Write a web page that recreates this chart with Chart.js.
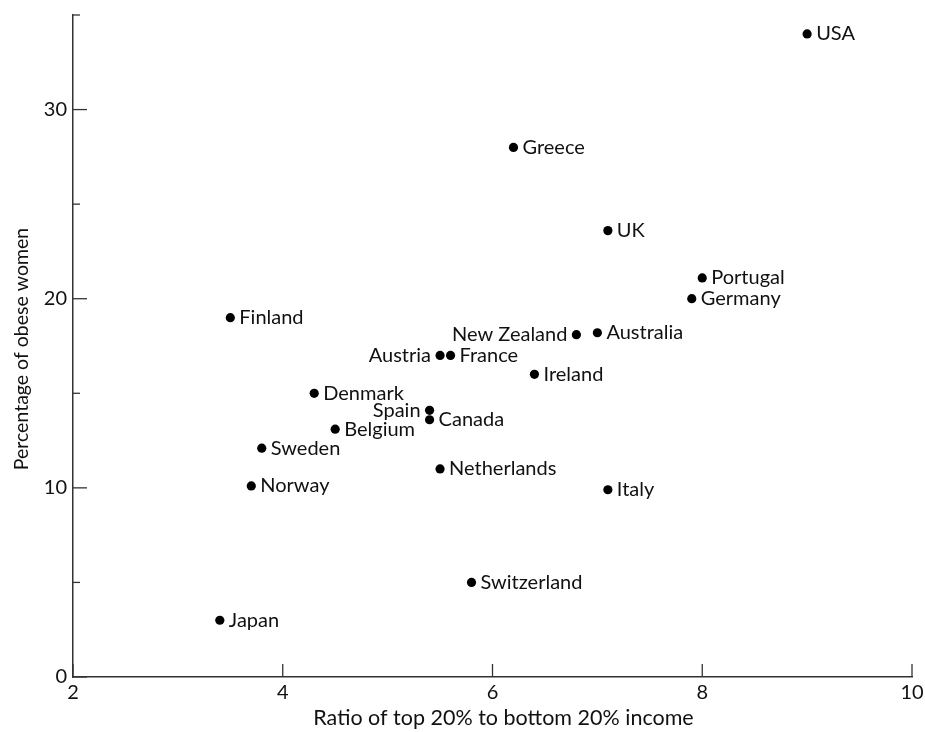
<!DOCTYPE html>
<html>
<head>
<meta charset="utf-8">
<script src="https://cdn.jsdelivr.net/npm/chart.js@4/dist/chart.umd.min.js"></script>
<style>
  body { margin: 0; background: #fff; }
  #wrap { width: 925px; height: 732px; }
</style>
</head>
<body>
<div id="wrap"><canvas id="scatterChart"></canvas></div>
<script>
// countries, income ratio (x) and % obese women (y)
const paises = ['USA', 'Greece', 'UK', 'Portugal', 'Germany', 'Australia', 'New Zealand',
  'Finland', 'Austria', 'France', 'Ireland', 'Denmark', 'Spain', 'Canada', 'Belgium',
  'Sweden', 'Norway', 'Netherlands', 'Italy', 'Switzerland', 'Japan'];
const ratioIngreso = [9.0, 6.2, 7.1, 8.0, 7.9, 7.0, 6.8,
  3.5, 5.5, 5.6, 6.4, 4.3, 5.4, 5.4, 4.5,
  3.8, 3.7, 5.5, 7.1, 5.8, 3.4];
const obesidad = [34.0, 28.0, 23.6, 21.1, 20.0, 18.2, 18.1,
  19.0, 17.0, 17.0, 16.0, 15.0, 14.1, 13.6, 13.1,
  12.1, 10.1, 11.0, 9.9, 5.0, 3.0];
const xTicks = [2, 4, 6, 8, 10];
const yTicks = [0, 10, 20, 30];

const tituloX = 'Ratio of top 20% to bottom 20% income';
const tituloY = 'Percentage of obese women';

// labels written on the left side of the dot
const etiquetaIzq = ['New Zealand', 'Austria', 'Spain'];

const fuente = 'Lato, "Noto Sans", sans-serif';
const colorEje = '#333';

// tick marks drawn inward, and the point labels
const marcasYEtiquetas = {
  id: 'marcasYEtiquetas',
  afterDraw(chart) {
    const ctx = chart.ctx;
    const { left, bottom, top, right } = chart.chartArea;
    const sx = chart.scales.x;
    const sy = chart.scales.y;

    ctx.save();
    ctx.strokeStyle = colorEje;
    ctx.lineWidth = 1.3;
    sx.ticks.forEach(t => {
      const px = sx.getPixelForValue(t.value);
      ctx.beginPath();
      ctx.moveTo(px, bottom);
      ctx.lineTo(px, bottom - 13);
      ctx.stroke();
    });
    sy.ticks.forEach(t => {
      const py = sy.getPixelForValue(t.value);
      const largo = yTicks.includes(t.value) ? 14 : 7;
      ctx.beginPath();
      ctx.moveTo(left, py);
      ctx.lineTo(left + largo, py);
      ctx.stroke();
    });

    ctx.fillStyle = '#111';
    ctx.font = '20px ' + fuente;
    ctx.textBaseline = 'middle';
    chart.getDatasetMeta(0).data.forEach((pt, i) => {
      const nombre = paises[i];
      if (etiquetaIzq.includes(nombre)) {
        ctx.textAlign = 'right';
        ctx.fillText(nombre, pt.x - 9, pt.y);
      } else {
        ctx.textAlign = 'left';
        ctx.fillText(nombre, pt.x + 9, pt.y);
      }
    });

    // axis titles
    ctx.textAlign = 'center';
    ctx.font = '21.5px ' + fuente;
    ctx.fillText(tituloX, (left + right) / 2 + 11, bottom + 41);
    ctx.font = '19.5px ' + fuente;
    ctx.translate(left - 51, (top + bottom) / 2 + 3);
    ctx.rotate(-Math.PI / 2);
    ctx.fillText(tituloY, 0, 0);
    ctx.restore();
  }
};

function sinRelleno(s) {
  s.paddingLeft = 0;
  s.paddingRight = 0;
  s.paddingTop = 0;
  s.paddingBottom = 0;
}

const ctx = document.getElementById('scatterChart').getContext('2d');
new Chart(ctx, {
  type: 'scatter',
  data: {
    datasets: [{
      label: 'Obesity',
      data: ratioIngreso.map((x, i) => ({ x: x, y: obesidad[i] })),
      backgroundColor: '#000',
      borderWidth: 0,
      pointRadius: 4.6,
      pointHoverRadius: 4.6
    }]
  },
  options: {
    responsive: true,
    maintainAspectRatio: false,
    animation: false,
    layout: { padding: { top: 15, right: 13, left: 0, bottom: 0 } },
    plugins: {
      legend: { display: false },
      tooltip: { enabled: false }
    },
    scales: {
      x: {
        type: 'linear',
        min: 2,
        max: 10,
        afterBuildTicks: s => { s.ticks = xTicks.map(v => ({ value: v })); },
        ticks: { color: '#111', font: { family: fuente, size: 20, lineHeight: 1 }, padding: 6 },
        grid: { display: false, tickLength: 0 },
        border: { display: true, color: colorEje, width: 1.5 },
        afterFit: s => { s.height = 55; sinRelleno(s); }
      },
      y: {
        type: 'linear',
        min: 0,
        max: 35,
        ticks: {
          stepSize: 5,
          autoSkip: false,
          color: '#111',
          font: { family: fuente, size: 20, lineHeight: 1 },
          padding: 6,
          callback: v => yTicks.includes(v) ? v : ''
        },
        grid: { display: false, tickLength: 0 },
        border: { display: true, color: colorEje, width: 1.5 },
        afterFit: s => { s.width = 73; sinRelleno(s); }
      }
    }
  },
  plugins: [marcasYEtiquetas]
});
</script>
</body>
</html>
